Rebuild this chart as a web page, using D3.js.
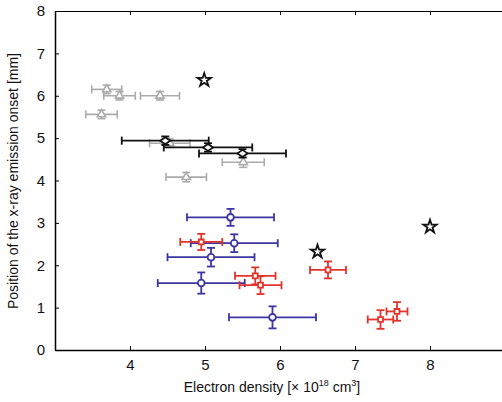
<!DOCTYPE html>
<html><head><meta charset="utf-8">
<script src="https://cdn.jsdelivr.net/npm/d3@7"></script>
<style>body{margin:0;background:#fff}svg{display:block}text{font-family:"Liberation Sans",Arial,sans-serif}</style>
</head><body><svg id="c" width="502" height="402"></svg>
<script>
// x, y, x-error, y-error
const grayTri = [[3.69,6.15,0.20,0.10],[3.86,6.00,0.21,0.10],[4.40,6.00,0.26,0.10],[3.62,5.56,0.21,0.10],[4.53,4.88,0.27,0.10],[5.51,4.43,0.28,0.12],[4.75,4.08,0.27,0.11]];
const blackDia = [[4.47,4.94,0.58,0.10],[5.04,4.78,0.59,0.10],[5.50,4.64,0.58,0.10]];
const blueCirc = [[5.34,3.13,0.58,0.20],[5.39,2.52,0.58,0.21],[5.08,2.19,0.58,0.22],[4.95,1.58,0.58,0.25],[5.90,0.77,0.58,0.26]];
const redSq = [[4.95,2.55,0.28,0.19],[5.67,1.75,0.27,0.20],[5.74,1.53,0.28,0.21],[6.64,1.89,0.24,0.20],[7.34,0.72,0.17,0.22],[7.56,0.91,0.14,0.22]];
const stars = [[4.99,6.37],[6.50,2.32],[8.00,2.91]];
const xTicks = [4,5,6,7,8];
const yTicks = [0,1,2,3,4,5,6,7,8];

const svg = d3.select("#c");
const L=55, T=11, R=505, B=350;
const x = d3.scaleLinear().domain([3,9]).range([L,R]);
const y = d3.scaleLinear().domain([0,8]).range([B,T]);
const fmt = d3.format("d");

// frame
svg.append("g").attr("transform",`translate(0,${B})`)
  .call(d3.axisBottom(x).tickValues(xTicks).tickFormat(fmt).tickSizeInner(-4).tickSizeOuter(0).tickPadding(9))
  .call(g=>{g.select(".domain").attr("stroke-width",1.5);g.selectAll("text").attr("font-size",15).attr("fill","#111");});
svg.append("g").attr("transform",`translate(0,${T})`)
  .call(d3.axisTop(x).tickValues(xTicks).tickSizeInner(-4).tickSizeOuter(0).tickFormat(""))
  .call(g=>g.select(".domain").attr("stroke-width",1.2));
svg.append("g").attr("transform",`translate(${L},0)`)
  .call(d3.axisLeft(y).tickValues(yTicks).tickFormat(fmt).tickSizeInner(-4).tickSizeOuter(0).tickPadding(10))
  .call(g=>{g.select(".domain").attr("stroke-width",1.5);g.selectAll("text").attr("font-size",15).attr("fill","#111");});

function errbars(data,color,sw,cap){
  const g = svg.append("g").attr("stroke",color).attr("stroke-width",sw).attr("fill","none");
  data.forEach(d=>{
    const cx=x(d[0]), cy=y(d[1]);
    const x0=x(d[0]-d[2]), x1=x(d[0]+d[2]), y0=y(d[1]-d[3]), y1=y(d[1]+d[3]);
    g.append("line").attr("x1",x0).attr("x2",x1).attr("y1",cy).attr("y2",cy);
    g.append("line").attr("x1",x0).attr("x2",x0).attr("y1",cy-cap).attr("y2",cy+cap);
    g.append("line").attr("x1",x1).attr("x2",x1).attr("y1",cy-cap).attr("y2",cy+cap);
    g.append("line").attr("x1",cx).attr("x2",cx).attr("y1",y0).attr("y2",y1);
    g.append("line").attr("x1",cx-cap).attr("x2",cx+cap).attr("y1",y0).attr("y2",y0);
    g.append("line").attr("x1",cx-cap).attr("x2",cx+cap).attr("y1",y1).attr("y2",y1);
  });
}
function markers(data,color,type,size,sw){
  svg.append("g").selectAll("path").data(data).join("path")
    .attr("d",d3.symbol().type(type).size(size))
    .attr("transform",d=>`translate(${x(d[0])},${y(d[1])})`)
    .attr("fill","#fff").attr("stroke",color).attr("stroke-width",sw);
}
const gray="#ababab", black="#111", blue="#3c35a3", red="#e2342b";
errbars(grayTri,gray,1.6,4);
markers(grayTri,gray,d3.symbolTriangle,30,1.6);
errbars(blackDia,black,1.8,4);
svg.append("g").selectAll("path").data(blackDia).join("path")
  .attr("d","M-5,0L0,-3.5L5,0L0,3.5Z")
  .attr("transform",d=>`translate(${x(d[0])},${y(d[1])})`)
  .attr("fill","#fff").attr("stroke",black).attr("stroke-width",1.8);
errbars(blueCirc,blue,1.8,4);
markers(blueCirc,blue,d3.symbolCircle,36,1.8);
errbars(redSq,red,1.8,4);
markers(redSq,red,d3.symbolSquare,24,1.8);
markers(stars,black,d3.symbolStar,55,1.8);

// labels
svg.append("text").attr("x",272).attr("y",392).attr("text-anchor","middle").attr("font-size",14).attr("fill","#111")
  .html('Electron density [× 10<tspan dy="-6" font-size="9">18</tspan><tspan dy="6"> cm</tspan><tspan dy="-6" font-size="9">3</tspan><tspan dy="6">]</tspan>');
svg.append("text").attr("transform","translate(18,181) rotate(-90)").attr("text-anchor","middle").attr("font-size",14).attr("fill","#111")
  .text("Position of the x-ray emission onset [mm]");
</script></body></html>
